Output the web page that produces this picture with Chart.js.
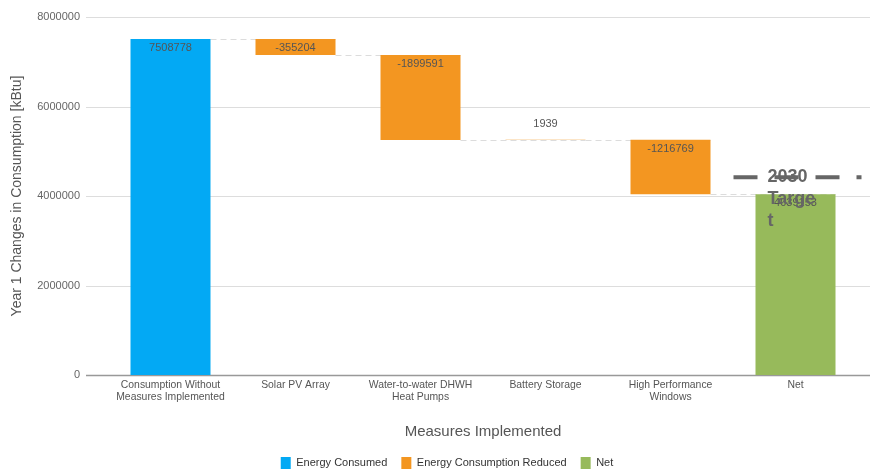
<!DOCTYPE html>
<html>
<head>
<meta charset="utf-8">
<script src="https://cdn.jsdelivr.net/npm/chart.js@4.4.1/dist/chart.umd.min.js"></script>
<style>
  html, body { margin: 0; padding: 0; background: #fff; }
  #wrap { width: 870px; height: 470px; }
</style>
</head>
<body>
<div id="wrap"><canvas id="chart" width="870" height="470"></canvas></div>
<script>
// values
const categories = [
    ['Consumption Without', 'Measures Implemented'],
    'Solar PV Array',
    ['Water-to-water DHWH', 'Heat Pumps'],
    'Battery Storage',
    ['High Performance', 'Windows'],
    'Net'
];
const baseConsumption = 7508778;
const measureChanges = [-355204, -1899591, 1939, -1216769];
const targetValue = 4420000;
const targetLines = ['2030', 'Targe', 't'];
const yTicks = [0, 2000000, 4000000, 6000000, 8000000];

const seriesNames = ['Energy Consumed', 'Energy Consumption Reduced', 'Net'];
const seriesColors = ['#03A9F4', '#F39621', '#97BA5B'];

// build the floating bars (waterfall)
const consumedData = [[0, baseConsumption], null, null, null, null, null];
const reducedData = [null];
const barLabels = [baseConsumption];
const levels = [baseConsumption];
let running = baseConsumption;
measureChanges.forEach(change => {
    reducedData.push([running, running + change]);
    barLabels.push(change);
    running += change;
    levels.push(running);
});
reducedData.push(null);
const netValue = running;
barLabels.push(netValue);
const netData = [null, null, null, null, null, [0, netValue]];

const FONT = '"Liberation Sans", Arial, sans-serif';

// grid lines run past the plot, to the left of ticks and to the page edge
const gridPlugin = {
    id: 'gridLines',
    afterLayout(chart) {
        // legend sits a bit right of centre in the original
        chart.legend.left += 18;
        chart.legend.right += 18;
    },
    beforeDatasetsDraw(chart) {
        const ctx = chart.ctx;
        const y = chart.scales.y;
        ctx.save();
        yTicks.forEach(v => {
            const py = Math.round(y.getPixelForValue(v)) + 0.5;
            ctx.beginPath();
            ctx.strokeStyle = v === 0 ? '#999' : '#ddd';
            ctx.lineWidth = v === 0 ? 1.5 : 1;
            ctx.moveTo(chart.chartArea.left - 22, py);
            ctx.lineTo(chart.width, py);
            ctx.stroke();
        });
        // dashed connectors between the steps
        const x = chart.scales.x;
        const half = (x.getPixelForValue(1) - x.getPixelForValue(0)) * 0.32;
        ctx.strokeStyle = '#dcdcdc';
        ctx.lineWidth = 1;
        ctx.setLineDash([6, 4]);
        levels.forEach((lvl, i) => {
            const py = Math.round(y.getPixelForValue(lvl)) + 0.5;
            ctx.beginPath();
            ctx.moveTo(x.getPixelForValue(i) + half, py);
            ctx.lineTo(x.getPixelForValue(i + 1) + half, py);
            ctx.stroke();
        });
        ctx.restore();
    }
};

// value labels and the 2030 target marker
const labelPlugin = {
    id: 'barLabels',
    afterDatasetsDraw(chart) {
        const ctx = chart.ctx;
        ctx.save();
        ctx.font = '11px ' + FONT;
        ctx.fillStyle = '#555';
        ctx.textAlign = 'center';
        ctx.textBaseline = 'middle';
        chart.data.datasets.forEach((ds, di) => {
            const meta = chart.getDatasetMeta(di);
            meta.data.forEach((bar, i) => {
                if (ds.data[i] == null) return;
                const top = Math.min(bar.y, bar.base);
                const h = Math.abs(bar.y - bar.base);
                const ty = h < 14 ? top - 16 : top + 9;
                ctx.fillText(String(barLabels[i]), bar.x, ty);
            });
        });

        const x = chart.scales.x;
        const y = chart.scales.y;
        const cx = x.getPixelForValue(5);
        const ty = y.getPixelForValue(targetValue);
        ctx.strokeStyle = '#666';
        ctx.lineWidth = 4;
        ctx.setLineDash([24, 17]);
        ctx.beginPath();
        ctx.moveTo(cx - 62, ty);
        ctx.lineTo(cx + 66, ty);
        ctx.stroke();
        ctx.setLineDash([]);
        ctx.font = 'bold 18px ' + FONT;
        ctx.fillStyle = '#666';
        ctx.textAlign = 'left';
        targetLines.forEach((t, k) => {
            ctx.fillText(t, cx - 28, ty + k * 22);
        });
        ctx.restore();
    }
};

new Chart(document.getElementById('chart'), {
    type: 'bar',
    data: {
        labels: categories,
        datasets: [
            { label: seriesNames[0], data: consumedData, backgroundColor: seriesColors[0] },
            { label: seriesNames[1], data: reducedData, backgroundColor: seriesColors[1] },
            { label: seriesNames[2], data: netData, backgroundColor: seriesColors[2] }
        ]
    },
    options: {
        responsive: false,
        animation: false,
        devicePixelRatio: 1,
        layout: { padding: { top: 0, right: 12, left: 0, bottom: 0 } },
        datasets: {
            bar: { grouped: false, skipNull: true, categoryPercentage: 0.8, barPercentage: 0.8 }
        },
        scales: {
            x: {
                grid: { display: false, drawTicks: false },
                border: { display: false },
                ticks: { color: '#555', font: { family: FONT, size: 10.4, lineHeight: 1.15 }, maxRotation: 0, autoSkip: false, padding: 4 },
                title: {
                    display: true,
                    text: 'Measures Implemented',
                    color: '#555',
                    font: { family: FONT, size: 15 },
                    padding: { top: 16, bottom: 2 }
                }
            },
            y: {
                min: 0,
                max: 8000000,
                afterBuildTicks: scale => { scale.ticks = yTicks.map(v => ({ value: v })); },
                afterFit: scale => {
                    scale.width = 108;
                    scale.paddingTop = 17;
                    scale.paddingBottom = 6;
                },
                grid: { display: false },
                border: { display: false },
                ticks: {
                    color: '#666',
                    font: { family: FONT, size: 11 },
                    padding: 20,
                    callback: v => String(v)
                },
                title: {
                    display: true,
                    text: 'Year 1 Changes in Consumption [kBtu]',
                    color: '#555',
                    font: { family: FONT, size: 14 },
                    padding: { top: 9, bottom: 0 }
                }
            }
        },
        plugins: {
            legend: {
                position: 'bottom',
                maxHeight: 27,
                labels: {
                    boxWidth: 10,
                    boxHeight: 12,
                    padding: 14,
                    color: '#333',
                    font: { family: FONT, size: 11 }
                }
            },
            tooltip: { enabled: false }
        }
    },
    plugins: [gridPlugin, labelPlugin]
});
</script>
</body>
</html>
